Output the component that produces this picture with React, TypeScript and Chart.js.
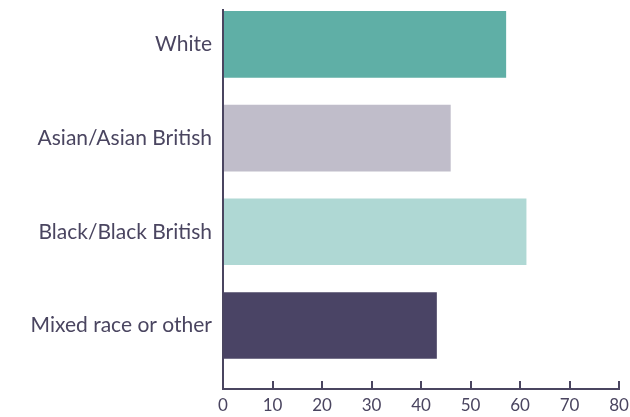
import React, { useEffect, useRef } from "react";
import { Chart, registerables } from "chart.js";

Chart.register(...registerables);

const categories = ["White", "Asian/Asian British", "Black/Black British", "Mixed race or other"];
const values = [57.2, 46.0, 61.3, 43.2];
const barColors = ["#5fafa6", "#c0bdca", "#afd8d4", "#4a4465"];
const xTicks = [0, 10, 20, 30, 40, 50, 60, 70, 80];

const INK = "#4a4560";

export default function App() {
  const ref = useRef<HTMLCanvasElement | null>(null);
  useEffect(() => {
    if (!ref.current) return;
    const chart = new Chart(ref.current, {
      type: "bar",
      data: {
        datasets: [
          {
            data: values.map((v, i) => ({ x: v, y: i })),
            backgroundColor: barColors,
            borderWidth: 0,
            categoryPercentage: 1,
            barPercentage: 0.711,
          },
        ],
      },
      options: {
        indexAxis: "y",
        animation: false,
        responsive: false,
        maintainAspectRatio: false,
        layout: { padding: { top: 10, right: 11, left: 0, bottom: 0 } },
        plugins: { legend: { display: false }, tooltip: { enabled: false } },
        scales: {
          y: {
            type: "linear",
            reverse: true,
            offset: false,
            min: -0.366,
            max: 3.677,
            afterBuildTicks: (s: any) => {
              s.ticks = categories.map((_, i) => ({ value: i }));
            },
            afterFit: (s: any) => {
              s.width = 223;
              s.paddingTop = 0;
              s.paddingBottom = 0;
            },
            grid: { display: false, drawTicks: false },
            border: { display: true, color: INK, width: 2 },
            ticks: {
              padding: 11,
              color: INK,
              font: { family: "Lato", size: 21 },
              callback: (v: any) => categories[v as number] ?? "",
            },
          },
          x: {
            type: "linear",
            min: 0,
            max: 80,
            afterBuildTicks: (s: any) => {
              s.ticks = xTicks.map((v) => ({ value: v }));
            },
            afterFit: (s: any) => {
              s.height = 28;
              s.paddingLeft = 0;
              s.paddingRight = 0;
            },
            grid: {
              display: true,
              drawOnChartArea: false,
              drawTicks: true,
              tickLength: -8,
              color: INK,
              lineWidth: 2,
            },
            border: { display: true, color: INK, width: 2 },
            ticks: {
              padding: 14,
              color: INK,
              font: { family: "Lato", size: 17 },
            },
          },
        },
      },
    });
    return () => chart.destroy();
  }, []);
  return (
    <div style={{ position: "fixed", left: 0, top: 0, width: 630, height: 417, background: "#fff" }}>
      <canvas ref={ref} width={630} height={417} style={{ width: 630, height: 417 }} />
    </div>
  );
}
